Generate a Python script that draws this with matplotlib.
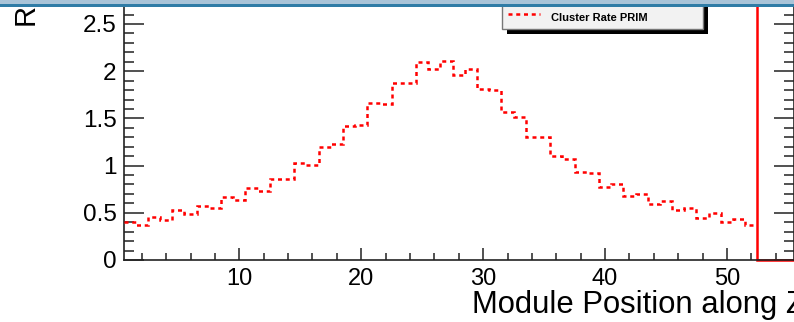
import numpy as np
import matplotlib
matplotlib.use("Agg")
import matplotlib.pyplot as plt
from matplotlib.patches import Rectangle
from matplotlib.lines import Line2D
from matplotlib.ticker import MultipleLocator, FixedLocator

plt.rcParams['font.family'] = ['Liberation Sans', 'DejaVu Sans']

# ---- data ----
modules = np.arange(1, 53)
cluster_rate_prim = [
    0.400, 0.375, 0.452, 0.424, 0.526, 0.487, 0.575, 0.547, 0.664, 0.636,
    0.761, 0.734, 0.861, 0.861, 1.024, 1.008, 1.200, 1.225, 1.423, 1.430,
    1.660, 1.649, 1.872, 1.872, 2.095, 2.020, 2.108, 1.960, 2.020, 1.808,
    1.798, 1.563, 1.510, 1.300, 1.300, 1.100, 1.073, 0.929, 0.925, 0.776,
    0.800, 0.675, 0.696, 0.593, 0.625, 0.526, 0.547, 0.448, 0.501, 0.403,
    0.438, 0.374,
]
series_label = "Cluster Rate PRIM"
x_range = (0.5, 55.5)
y_range = (0.0, 2.754)
x_major = [10, 20, 30, 40, 50]
x_tick_labels = ["10", "20", "30", "40", "50"]
y_major = [0, 0.5, 1, 1.5, 2, 2.5]
y_tick_labels = ["0", "0.5", "1", "1.5", "2", "2.5"]
cut_edge = 52.5
x_title = "Module Position along Z"
y_title = "Rate"

W, H = 794, 322
fig = plt.figure(figsize=(W / 100, H / 100), dpi=100)
fig.patch.set_facecolor('white')


def fx(px):
    return px / W


def fy(py):
    return 1 - py / H


ax = fig.add_axes([fx(123.5), fy(260), (794 - 123.5) / W, 260 / H])
ax.set_xlim(*x_range)
ax.set_ylim(*y_range)

edges = np.append(modules - 0.5, modules[-1] + 0.5)
dot = (0, (1.6, 1.5))
ax.stairs(cluster_rate_prim, edges, baseline=None, color='#ff0000', lw=1.8,
          linestyle=dot, zorder=3)
ax.plot([cut_edge, cut_edge, x_range[1]], [y_range[1] * 1.1, 0, 0],
        color='#ff0000', lw=1.8, solid_joinstyle='miter', zorder=2, clip_on=False)

for s in ax.spines.values():
    s.set_linewidth(1.2)
    s.set_color('#222222')

ax.xaxis.set_major_locator(FixedLocator(x_major))
ax.set_xticklabels(x_tick_labels)
ax.xaxis.set_minor_locator(MultipleLocator(2))
ax.yaxis.set_major_locator(FixedLocator(y_major))
ax.set_yticklabels(y_tick_labels)
ax.yaxis.set_minor_locator(MultipleLocator(0.1))

ax.tick_params(axis='x', which='major', direction='in', length=9, width=1.1,
               labelsize=17, pad=6, top=False, color='#222222')
ax.tick_params(axis='x', which='minor', direction='in', length=5.3, width=1.1,
               top=False, color='#222222')
ax.tick_params(axis='y', which='major', direction='in', length=14.4, width=1.1,
               labelsize=17.5, pad=5, right=True, color='#222222')
ax.tick_params(axis='y', which='minor', direction='in', length=7.2, width=1.1,
               right=True, color='#222222')

fig.text(fx(805), fy(313.5), x_title, ha='right', va='baseline', fontsize=22.3)
fig.text(fx(40), fy(24.7), y_title, rotation=90, ha='right', va='bottom',
         fontsize=21)

# legend box with shadow
fig.patches.append(Rectangle((fx(507), fy(34.3)), (708 - 507) / W, 40 / H,
                             transform=fig.transFigure, facecolor='black',
                             edgecolor='none', zorder=10))
fig.patches.append(Rectangle((fx(502), fy(29.3)), (703 - 502) / W, 40 / H,
                             transform=fig.transFigure, facecolor='#f2f2f2',
                             edgecolor='#777777', lw=1.0, zorder=11))
fig.lines.append(Line2D([fx(508), fx(540)], [fy(14), fy(14)],
                        transform=fig.transFigure, color='#ff0000', lw=1.8,
                        linestyle=dot, zorder=12))
fig.text(fx(551), fy(20.7), series_label, ha='left', va='baseline',
         fontsize=8, fontweight='bold', zorder=12)

# window title bar at the top
fig.patches.append(Rectangle((0, fy(4.3)), 1, 4.3 / H, transform=fig.transFigure,
                             facecolor='#a9c4d8', edgecolor='none', zorder=20))
fig.patches.append(Rectangle((0, fy(6.7)), 1, 2.4 / H, transform=fig.transFigure,
                             facecolor='#2f7ca6', edgecolor='none', zorder=20))

fig.savefig('out.png', dpi=100)
